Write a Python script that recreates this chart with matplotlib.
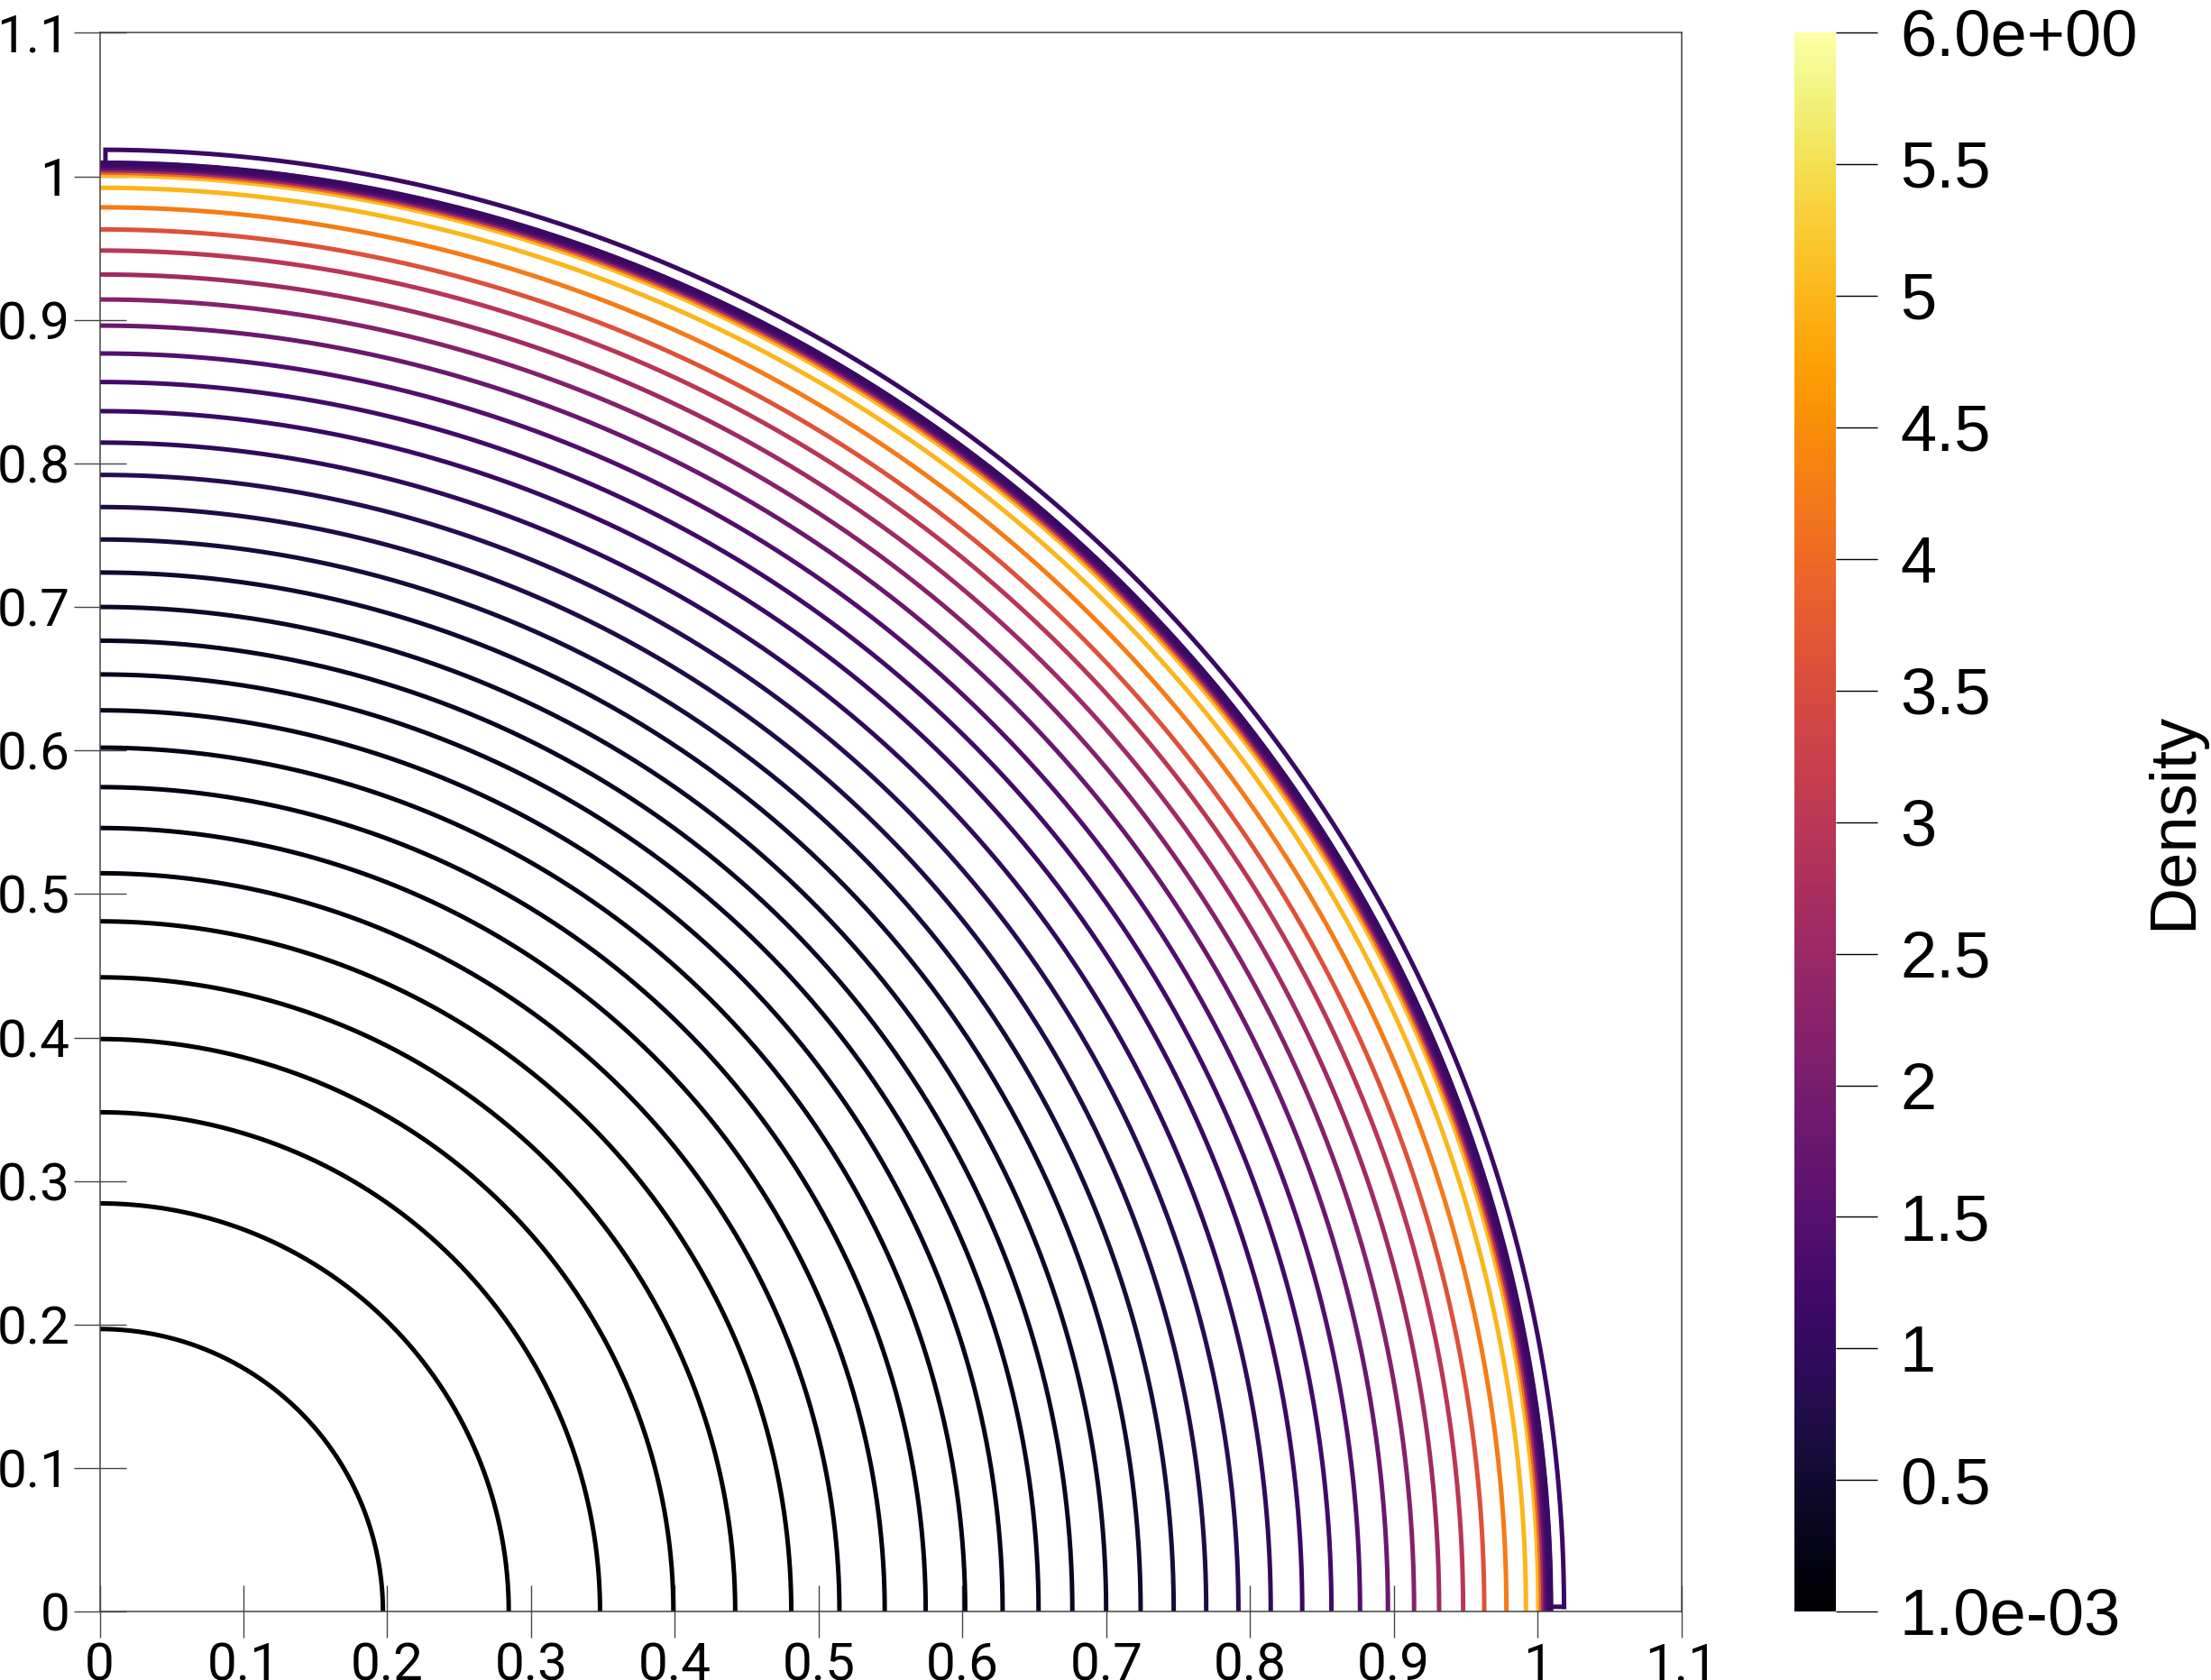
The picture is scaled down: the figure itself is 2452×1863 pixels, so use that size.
import numpy as np
import matplotlib.pyplot as plt
from matplotlib import colors, cm

# contour radii (read along the x axis) and the density that colours each one
radii = [0.197, 0.2845, 0.348, 0.399, 0.442, 0.481, 0.5145, 0.546, 0.5745, 0.602,
         0.628, 0.653, 0.6765, 0.700, 0.724, 0.747, 0.7696, 0.792, 0.8145, 0.8364,
         0.8567, 0.8766, 0.896, 0.9142, 0.9316, 0.9483, 0.963, 0.9784, 0.992, 1.0006]
density = [0.01, 0.02, 0.03, 0.05, 0.07, 0.09, 0.12, 0.15, 0.18, 0.22,
           0.26, 0.30, 0.34, 0.42, 0.48, 0.60, 0.72, 0.84, 0.96, 1.08,
           1.20, 1.44, 1.80, 2.20, 2.60, 3.00, 3.60, 4.25, 5.00, 5.10]

# the smeared shock band (inner to outer) and the thin outer loop
band_radii = [1.0012, 1.0028, 1.0044, 1.006, 1.0076, 1.0092]
band_density = [5.1, 4.0, 2.6, 1.6, 1.25, 1.1]
outer_radius = 1.0185
outer_density = 1.1

ticks = [0, 0.1, 0.2, 0.3, 0.4, 0.5, 0.6, 0.7, 0.8, 0.9, 1.0, 1.1]
tick_labels = ["0", "0.1", "0.2", "0.3", "0.4", "0.5", "0.6", "0.7", "0.8", "0.9", "1", "1.1"]
cbar_ticks = [0.001, 0.5, 1, 1.5, 2, 2.5, 3, 3.5, 4, 4.5, 5, 5.5, 6]
cbar_labels = ["1.0e-03", "0.5", "1", "1.5", "2", "2.5", "3", "3.5", "4", "4.5", "5", "5.5", "6.0e+00"]

cmap = plt.get_cmap("inferno")
norm = colors.Normalize(vmin=0.001, vmax=6.0)

fig = plt.figure(figsize=(24.52, 18.63), dpi=100)
ax = fig.add_axes([0.0451, 0.0406, 0.7153, 0.9399])

theta = np.linspace(0, np.pi / 2, 400)
for r, d in zip(radii, density):
    ax.plot(r * np.cos(theta), r * np.sin(theta), color=cmap(norm(d)), lw=3.6,
            solid_capstyle="butt")

for r, d in zip(band_radii, band_density):
    ax.plot(r * np.cos(theta), r * np.sin(theta), color=cmap(norm(d)), lw=4.2,
            solid_capstyle="butt")

# outer closed contour: arc at outer_radius joined back to the band near both axes
t0 = np.arcsin(0.0035 / outer_radius)
t1 = np.arccos(0.004 / outer_radius)
ta = np.linspace(t0, t1, 400)
rin = band_radii[-1]
xs = np.concatenate([outer_radius * np.cos(ta), rin * np.cos(ta[::-1]), [outer_radius * np.cos(t0)]])
ys = np.concatenate([outer_radius * np.sin(ta), rin * np.sin(ta[::-1]), [outer_radius * np.sin(t0)]])
ax.plot(xs, ys, color=cmap(norm(outer_density)), lw=3.6, solid_joinstyle="miter")

ax.set_xlim(0, 1.1)
ax.set_ylim(0, 1.1)
ax.set_xticks(ticks)
ax.set_xticklabels(tick_labels)
ax.set_yticks(ticks)
ax.set_yticklabels(tick_labels)
for sp in ax.spines.values():
    sp.set_color("#444444")
    sp.set_linewidth(1.1)
ax.tick_params(direction="inout", length=42, width=1.0, color="#444444",
               labelsize=42, pad=3)
for lab in ax.get_xticklabels() + ax.get_yticklabels():
    lab.set_family("Roboto")

# colorbar
cax = fig.add_axes([0.8116, 0.0408, 0.01876, 0.9399])
sm = cm.ScalarMappable(norm=norm, cmap=cmap)
cb = fig.colorbar(sm, cax=cax)
cb.outline.set_visible(False)
cb.set_ticks(cbar_ticks)
cb.set_ticklabels(cbar_labels)
cax.tick_params(direction="out", length=33, width=1.0, color="black",
                labelsize=52, pad=18)
for lab in cax.get_yticklabels():
    lab.set_family("Liberation Sans")

fig.text(2412 / 2452, 1 - 910 / 1863, "Density", rotation=90, ha="center", va="center",
         fontsize=52, family="Liberation Sans")

fig.savefig("out.png", dpi=100)
